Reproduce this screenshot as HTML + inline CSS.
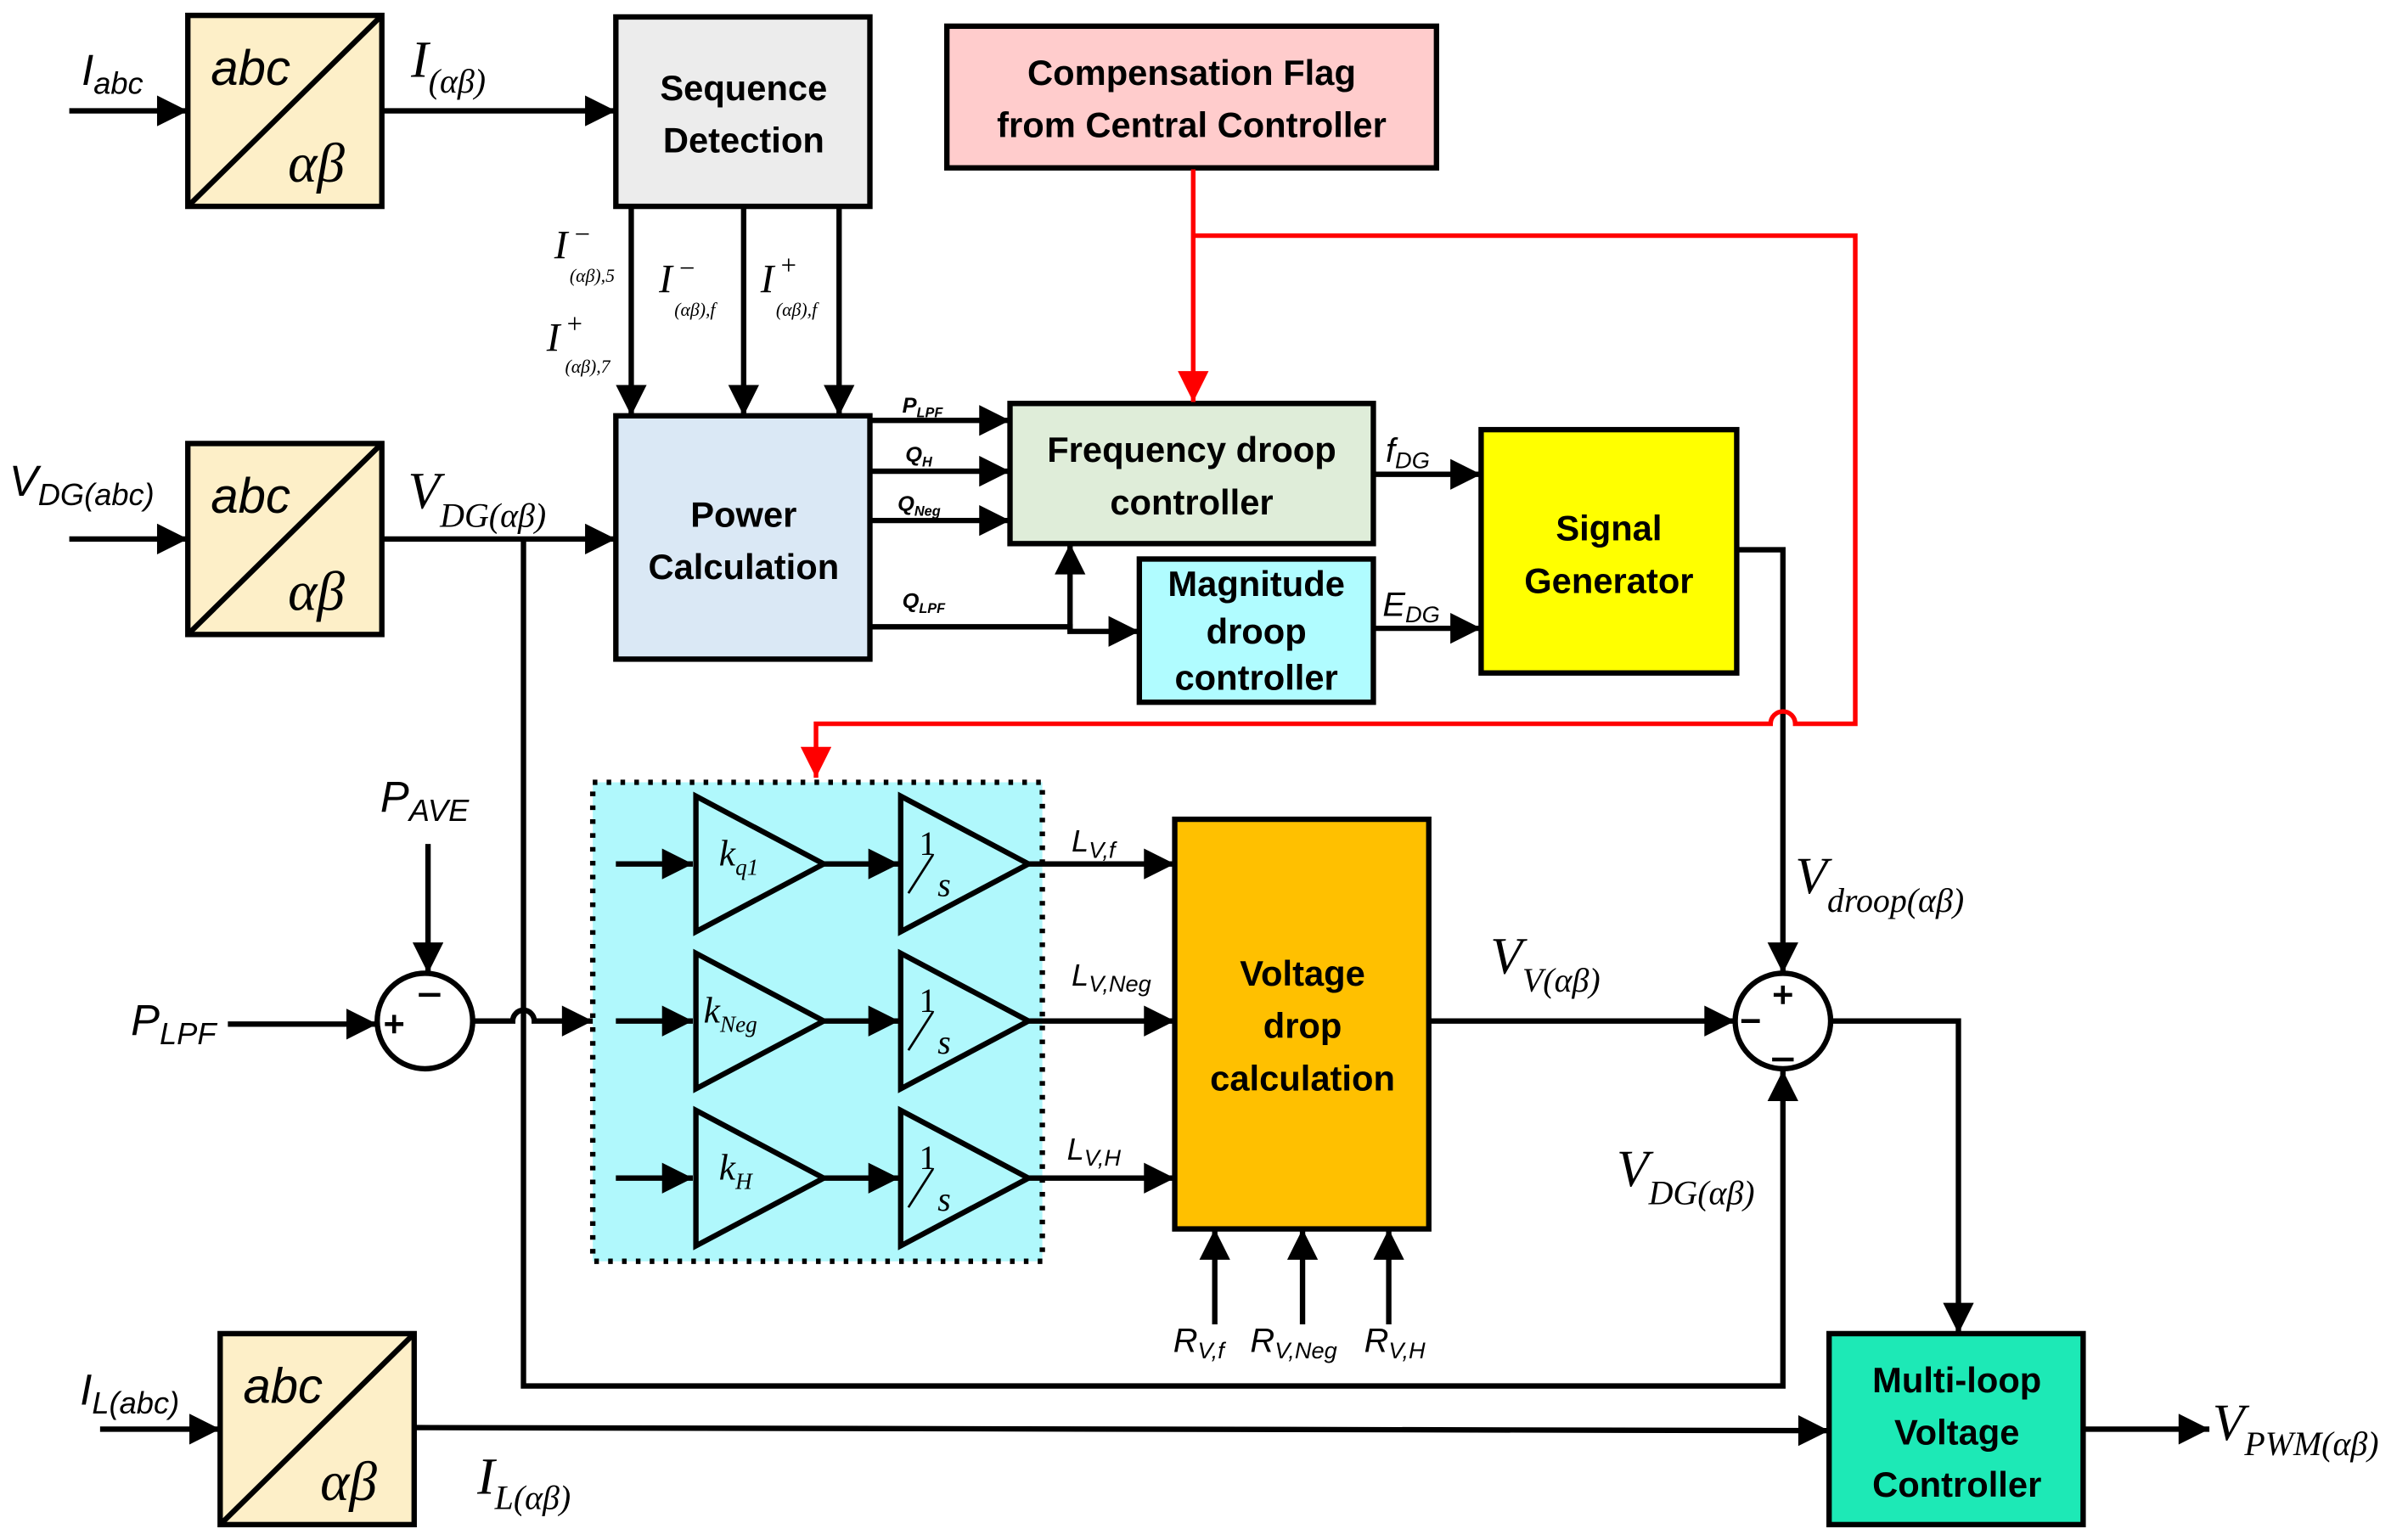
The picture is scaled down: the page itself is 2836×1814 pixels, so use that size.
<!DOCTYPE html>
<html><head><meta charset="utf-8"><style>
html,body{margin:0;padding:0;background:#fff}
svg{display:block}
.b{font-family:"Liberation Sans",sans-serif;font-weight:bold;font-size:23px;text-anchor:middle;fill:#000}
.m{font-family:"Liberation Serif",serif;font-style:italic;fill:#000}
.s{font-family:"Liberation Sans",sans-serif;font-style:italic;fill:#000}
</style></head><body>
<svg width="2836" height="1814" viewBox="0 0 1564 1000" preserveAspectRatio="none" xmlns="http://www.w3.org/2000/svg">
<defs>
<marker id="a" viewBox="0 0 10 10" refX="10" refY="5" markerWidth="24" markerHeight="20" markerUnits="userSpaceOnUse" orient="auto"><path d="M0,0L10,5L0,10z" fill="#000"/></marker>
<marker id="r" viewBox="0 0 10 10" refX="10" refY="5" markerWidth="24" markerHeight="20" markerUnits="userSpaceOnUse" orient="auto"><path d="M0,0L10,5L0,10z" fill="#f00"/></marker>
</defs>
<g stroke="#000" stroke-width="3.5" fill="none">
<rect x="122" y="10" width="126" height="124" fill="#fdefc8"/><line x1="122" y1="134" x2="248" y2="10"/>
<rect x="122" y="288" width="126" height="124" fill="#fdefc8"/><line x1="122" y1="412" x2="248" y2="288"/>
<rect x="143" y="866" width="126" height="124" fill="#fdefc8"/><line x1="143" y1="990" x2="269" y2="866"/>
<rect x="400" y="11" width="165" height="123" fill="#ececec"/>
<rect x="615" y="17" width="318" height="92" fill="#ffcccc"/>
<rect x="400" y="270" width="165" height="158" fill="#dae8f5"/>
<rect x="656" y="262" width="236" height="91" fill="#dfedd9"/>
<rect x="740" y="363" width="152" height="93" fill="#b0fcff"/>
<rect x="962" y="279" width="166" height="158" fill="#ffff00"/>
<rect x="385" y="508" width="292" height="311" fill="#b0f8fc" stroke-dasharray="3,6"/>
<rect x="763" y="532" width="165" height="266" fill="#ffc000"/>
<rect x="1188" y="866" width="165" height="124" fill="#1de9b6"/>
<circle cx="276" cy="663" r="31" fill="#fff"/>
<circle cx="1158" cy="663" r="31" fill="#fff"/>
<line x1="45" y1="72" x2="122" y2="72" marker-end="url(#a)"/>
<line x1="248" y1="72" x2="400" y2="72" marker-end="url(#a)"/>
<line x1="45" y1="350" x2="122" y2="350" marker-end="url(#a)"/>
<line x1="248" y1="350" x2="400" y2="350" marker-end="url(#a)"/>
<line x1="65" y1="928" x2="143" y2="928" marker-end="url(#a)"/>
<line x1="269" y1="927" x2="1188" y2="929" marker-end="url(#a)"/>
<line x1="410" y1="134" x2="410" y2="270" marker-end="url(#a)"/>
<line x1="483" y1="134" x2="483" y2="270" marker-end="url(#a)"/>
<line x1="545" y1="134" x2="545" y2="270" marker-end="url(#a)"/>
<line x1="565" y1="273" x2="656" y2="273" marker-end="url(#a)"/>
<line x1="565" y1="306" x2="656" y2="306" marker-end="url(#a)"/>
<line x1="565" y1="338" x2="656" y2="338" marker-end="url(#a)"/>
<polyline points="565,407 695,407 695,410 740,410" marker-end="url(#a)"/>
<line x1="695" y1="410" x2="695" y2="353" marker-end="url(#a)"/>
<line x1="892" y1="308" x2="962" y2="308" marker-end="url(#a)"/>
<line x1="892" y1="408" x2="962" y2="408" marker-end="url(#a)"/>
<path d="M1128,357H1158V632" marker-end="url(#a)"/>
<path d="M340,350V900H1158V695" marker-end="url(#a)"/>
<line x1="278" y1="548" x2="278" y2="632" marker-end="url(#a)"/>
<line x1="148" y1="665" x2="245" y2="665" marker-end="url(#a)"/>
<path d="M307,663H333a7,7 0 0 1 14,0H385" marker-end="url(#a)"/>
<line x1="928" y1="663" x2="1127" y2="663" marker-end="url(#a)"/>
<polyline points="1190,663 1272,663 1272,866" marker-end="url(#a)"/>
<line x1="1353" y1="928" x2="1435" y2="928" marker-end="url(#a)"/>
<line x1="789" y1="860" x2="789" y2="798" marker-end="url(#a)"/>
<line x1="846" y1="860" x2="846" y2="798" marker-end="url(#a)"/>
<line x1="902" y1="860" x2="902" y2="798" marker-end="url(#a)"/>
<g id="row">
<line x1="400" y1="561" x2="450" y2="561" marker-end="url(#a)"/>
<path d="M452,517V605L535,561z" fill="#b0f8fc"/>
<line x1="535" y1="561" x2="584" y2="561" marker-end="url(#a)"/>
<path d="M585,517V605L668,561z" fill="#b0f8fc"/>
<line x1="590" y1="580" x2="606" y2="555" stroke-width="1.5"/>
<line x1="668" y1="561" x2="763" y2="561" marker-end="url(#a)"/>
</g>
<use href="#row" y="102"/>
<use href="#row" y="204"/>
</g>
<g stroke="#f00" stroke-width="3" fill="none">
<line x1="775" y1="110" x2="775" y2="261" marker-end="url(#r)"/>
<path d="M775,153H1205V470H1166a8,8 0 0 0 -16,0H530V505" marker-end="url(#r)"/>
</g>
<g stroke="#000" stroke-width="2.5">
<line x1="250" y1="665" x2="262" y2="665"/><line x1="256" y1="659" x2="256" y2="671"/>
<line x1="272" y1="646" x2="286" y2="646"/>
<line x1="1152" y1="646" x2="1164" y2="646"/><line x1="1158" y1="640" x2="1158" y2="652"/>
<line x1="1131" y1="663" x2="1143" y2="663"/>
<line x1="1151" y1="688" x2="1165" y2="688"/>
</g>
<text class="b" x="483" y="65">Sequence</text><text class="b" x="483" y="99">Detection</text>
<text class="b" x="774" y="55">Compensation Flag</text><text class="b" x="774" y="89">from Central Controller</text>
<text class="b" x="483" y="342">Power</text><text class="b" x="483" y="376">Calculation</text>
<text class="b" x="774" y="300">Frequency droop</text><text class="b" x="774" y="334">controller</text>
<text class="b" x="816" y="387">Magnitude</text><text class="b" x="816" y="418">droop</text><text class="b" x="816" y="448">controller</text>
<text class="b" x="1045" y="351">Signal</text><text class="b" x="1045" y="385">Generator</text>
<text class="b" x="846" y="640">Voltage</text><text class="b" x="846" y="674">drop</text><text class="b" x="846" y="708">calculation</text>
<text class="b" x="1271" y="904">Multi-loop</text><text class="b" x="1271" y="938">Voltage</text><text class="b" x="1271" y="972">Controller</text>
<g class="s" font-size="32"><text x="137" y="55">abc</text><text x="137" y="333">abc</text><text x="158" y="911">abc</text></g>
<g class="m" font-size="36"><text x="187" y="118">αβ</text><text x="187" y="396">αβ</text><text x="208" y="974">αβ</text></g>
<g class="s">
<text x="53" y="55" font-size="28">I<tspan font-size="20" dy="6">abc</tspan></text>
<text x="6" y="322" font-size="28">V<tspan font-size="20" dy="6">DG(abc)</tspan></text>
<text x="52" y="912" font-size="28">I<tspan font-size="20" dy="6">L(abc)</tspan></text>
<text x="247" y="527" font-size="28">P<tspan font-size="20" dy="6">AVE</tspan></text>
<text x="85" y="672" font-size="28">P<tspan font-size="20" dy="6">LPF</tspan></text>
<text x="586" y="268" font-size="14" font-weight="bold">P<tspan font-size="9" dy="3">LPF</tspan></text>
<text x="588" y="300" font-size="14" font-weight="bold">Q<tspan font-size="9" dy="3">H</tspan></text>
<text x="583" y="332" font-size="14" font-weight="bold">Q<tspan font-size="9" dy="3">Neg</tspan></text>
<text x="586" y="395" font-size="14" font-weight="bold">Q<tspan font-size="9" dy="3">LPF</tspan></text>
<text x="900" y="300" font-size="22">f<tspan font-size="15" dy="4">DG</tspan></text>
<text x="898" y="400" font-size="22">E<tspan font-size="15" dy="4">DG</tspan></text>
<text x="696" y="553" font-size="20">L<tspan font-size="15" dy="4">V,f</tspan></text>
<text x="696" y="640" font-size="20">L<tspan font-size="15" dy="4">V,Neg</tspan></text>
<text x="693" y="753" font-size="20">L<tspan font-size="15" dy="4">V,H</tspan></text>
<text x="762" y="878" font-size="22">R<tspan font-size="15" dy="4">V,f</tspan></text>
<text x="812" y="878" font-size="22">R<tspan font-size="15" dy="4">V,Neg</tspan></text>
<text x="886" y="878" font-size="22">R<tspan font-size="15" dy="4">V,H</tspan></text>
</g>
<g class="m">
<text x="267" y="50" font-size="34">I<tspan font-size="22" dy="10">(αβ)</tspan></text>
<text x="265" y="330" font-size="34">V<tspan font-size="22" dy="12">DG(αβ)</tspan></text>
<text x="310" y="970" font-size="34">I<tspan font-size="22" dy="10">L(αβ)</tspan></text>
<text x="968" y="632" font-size="34">V<tspan font-size="22" dy="12">V(αβ)</tspan></text>
<text x="1166" y="580" font-size="34">V<tspan font-size="22" dy="12">droop(αβ)</tspan></text>
<text x="1050" y="770" font-size="34">V<tspan font-size="22" dy="12">DG(αβ)</tspan></text>
<text x="1437" y="935" font-size="34">V<tspan font-size="22" dy="10">PWM(αβ)</tspan></text>
<text x="360" y="168" font-size="26">I</text><text x="372" y="158" font-size="18">−</text><text x="370" y="183" font-size="12">(αβ),5</text>
<text x="355" y="228" font-size="26">I</text><text x="367" y="216" font-size="18">+</text><text x="367" y="242" font-size="12">(αβ),7</text>
<text x="428" y="190" font-size="26">I</text><text x="440" y="180" font-size="18">−</text><text x="438" y="205" font-size="12">(αβ),f</text>
<text x="494" y="190" font-size="26">I</text><text x="506" y="178" font-size="18">+</text><text x="504" y="205" font-size="12">(αβ),f</text>
<text x="467" y="562" font-size="24">k<tspan font-size="15" dy="6">q1</tspan></text>
<text x="457" y="664" font-size="24">k<tspan font-size="15" dy="6">Neg</tspan></text>
<text x="467" y="766" font-size="24">k<tspan font-size="15" dy="6">H</tspan></text>
<g font-size="22" font-style="normal"><text x="597" y="555">1</text><text x="597" y="657">1</text><text x="597" y="759">1</text></g>
<g font-size="22"><text x="609" y="582">s</text><text x="609" y="684">s</text><text x="609" y="786">s</text></g>
</g>
</svg>
</body></html>
